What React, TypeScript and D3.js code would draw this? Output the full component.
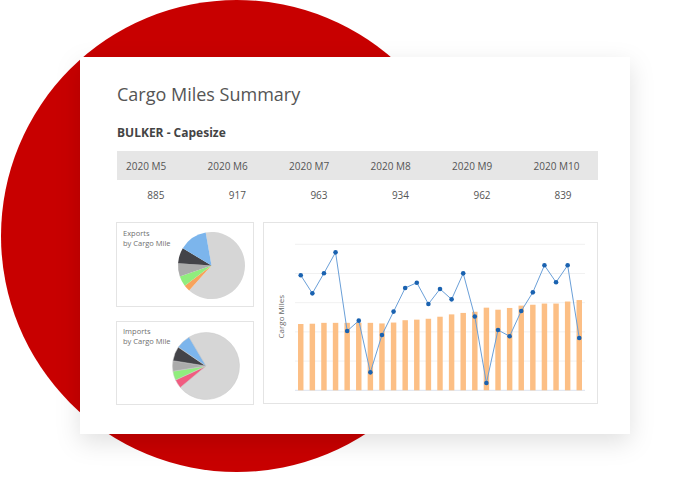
import React from "react";
import * as d3 from "d3";

const months = ["2020 M5", "2020 M6", "2020 M7", "2020 M8", "2020 M9", "2020 M10"];
const monthValues = [885, 917, 963, 934, 962, 839];

const exportSlices = [64.4, 3.1, 5.0, 6.4, 7.5, 13.6];
const exportColors = ["#d6d6d6", "#f7a35c", "#90ed7d", "#ababab", "#434348", "#7cb5ec"];
const importSlices = [72.4, 4.2, 4.4, 5.0, 7.0, 7.0];
const importColors = ["#d6d6d6", "#f15c80", "#90ed7d", "#ababab", "#434348", "#7cb5ec"];

const periods = d3.range(1, 26).map((i) => `P${i}`);
const barValues = [454, 456, 462, 462, 462, 462, 462, 458, 464, 480, 484, 490, 504, 520, 530, 538, 566, 552, 564, 580, 586, 594, 594, 608, 618];
const lineValues = [788, 664, 802, 945, 406, 477, 123, 379, 539, 701, 737, 591, 694, 623, 801, 505, 50, 413, 370, 543, 671, 856, 740, 856, 358];
const yTicks = [0, 200, 400, 600, 800, 1000];

const FONT = "'Open Sans', 'Noto Sans', sans-serif";

function Pie({ values, colors, cx, cy, r, start, stroke }: any) {
  const pie = d3.pie<number>().sort(null).value((d) => d).startAngle(start).endAngle(start + 2 * Math.PI);
  const arc = d3.arc<any>().innerRadius(0).outerRadius(r);
  const arcs = pie(values);
  return (
    <g transform={`translate(${cx},${cy})`}>
      {arcs.map((a, i) => (
        <path key={i} d={arc(a) as string} fill={colors[i]} stroke={stroke ? "#c8c8c8" : "none"} strokeWidth={stroke ? 0.5 : 0} />
      ))}
    </g>
  );
}

export default function App() {
  const colX = d3.scalePoint<string>().domain(months).range([126, 533.6]);
  const plotL = 295, plotR = 585, plotT = 244.3, plotB = 390.3;
  const x = d3.scaleBand<string>().domain(periods).range([plotL, plotR]).paddingInner(0.53).paddingOuter(0.26);
  const y = d3.scaleLinear().domain([0, 1000]).range([plotB, plotT]);
  const line = d3
    .line<number>()
    .x((_, i) => (x(periods[i]) as number) + x.bandwidth() / 2)
    .y((d) => y(d));

  return (
    <div style={{ position: "absolute", left: 0, top: 0, width: 675, height: 490 }}>
      <svg width={675} height={490} style={{ display: "block" }} fontFamily={FONT}>
        <defs>
          <filter id="shadow" x="-20%" y="-20%" width="140%" height="140%">
            <feDropShadow dx="0" dy="8" stdDeviation="12" floodColor="#000" floodOpacity="0.12" />
          </filter>
        </defs>
        <rect width={675} height={490} fill="#fff" />
        <circle cx={237} cy={236} r={236} fill="#c80000" />
        <rect x={80} y={57} width={550} height={377} fill="#fff" filter="url(#shadow)" />

        <text x={117} y={101} fontSize={18} fill="#555" fontWeight={400}>Cargo Miles Summary</text>
        <text x={117} y={137} fontSize={12} fill="#444" fontWeight={700}>BULKER - Capesize</text>

        <rect x={117} y={151} width={481} height={29} fill="#e6e6e6" />
        {months.map((m) => (
          <text key={m} x={colX(m) as number} y={169.5} fontSize={10} fill="#555">{m}</text>
        ))}
        {monthValues.map((v, i) => (
          <text key={i} x={(colX(months[i]) as number) + (i === 5 ? 38 : 38.5)} y={199} fontSize={10} fill="#555" textAnchor="end">{v}</text>
        ))}

        <rect x={116.5} y={222.5} width={137} height={84} fill="#fff" stroke="#e4e4e4" strokeWidth={1} />
        <text x={123} y={235.5} fontSize={7.5} fill="#707070">Exports</text>
        <text x={123} y={245.8} fontSize={7.5} fill="#707070">by Cargo Mile</text>
        <Pie values={exportSlices} colors={exportColors} cx={211.5} cy={265.5} r={33.5} start={(-10 * Math.PI) / 180} stroke={false} />

        <rect x={116.5} y={321.5} width={137} height={83} fill="#fff" stroke="#e4e4e4" strokeWidth={1} />
        <text x={123} y={333.5} fontSize={7.5} fill="#707070">Imports</text>
        <text x={123} y={343.8} fontSize={7.5} fill="#707070">by Cargo Mile</text>
        <Pie values={importSlices} colors={importColors} cx={206} cy={366} r={33.5} start={(-30.5 * Math.PI) / 180} stroke={true} />

        <rect x={263.5} y={222.5} width={334} height={181} fill="#fff" stroke="#e4e4e4" strokeWidth={1} />
        {yTicks.map((t) => (
          <line key={t} x1={plotL} x2={plotR} y1={y(t)} y2={y(t)} stroke={t === 0 ? "#dde3ee" : "#f1f1f1"} strokeWidth={1} />
        ))}
        <text transform={`translate(283.5,316.7) rotate(-90)`} fontSize={8} fill="#666" textAnchor="middle">Cargo Miles</text>
        {barValues.map((v, i) => (
          <rect key={i} x={x(periods[i]) as number} y={y(v)} width={x.bandwidth()} height={plotB - y(v)} fill="#fcbf85" />
        ))}
        <path d={line(lineValues) as string} fill="none" stroke="#6a9fd8" strokeWidth={1} />
        {lineValues.map((v, i) => (
          <circle key={i} cx={(x(periods[i]) as number) + x.bandwidth() / 2} cy={y(v)} r={2.3} fill="#1a62b0" />
        ))}
      </svg>
    </div>
  );
}
